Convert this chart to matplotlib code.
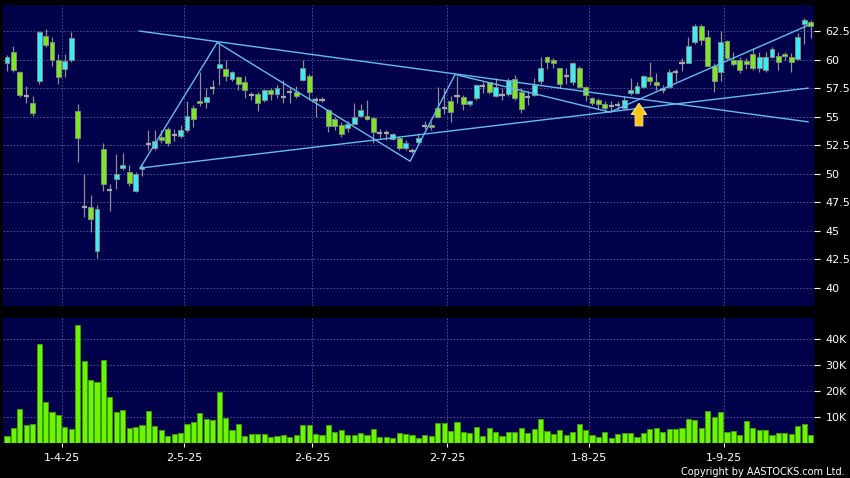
import matplotlib.pyplot as plt

# daily candles, oldest first
opens = [59.7, 60.7, 58.9, 56.8, 56.2, 58.1, 62.1, 61.5, 60.0, 59.2,
         60.0, 55.5, 47.1, 47.1, 43.2, 52.2, 48.6, 49.5, 50.5, 50.2,
         48.5, 50.4, 52.6, 52.3, 53.2, 53.9, 53.4, 53.3, 53.8, 55.8,
         56.4, 56.3, 57.5, 59.3, 59.2, 58.3, 58.5, 58.0, 56.9, 57.0,
         56.5, 57.3, 56.95, 56.7, 57.2, 57.2, 58.2, 58.6, 56.5, 56.5,
         55.6, 54.8, 54.3, 54.0, 54.4, 55.1, 55.05, 54.85, 53.6, 53.55,
         53.05, 53.15, 52.3, 52.0, 52.75, 54.2, 54.25, 55.8, 55.8, 56.4,
         56.8, 56.75, 56.1, 56.6, 57.7, 58.0, 56.8, 56.9, 57.0, 58.3,
         57.2, 56.7, 56.9, 58.15, 60.25, 60.0, 59.25, 58.55, 58.0, 59.3,
         57.6, 56.6, 56.5, 56.1, 55.9, 56.0, 55.8, 57.05, 57.1, 57.6,
         58.5, 58.0, 57.3, 57.6, 58.9, 59.7, 59.7, 61.5, 62.9, 62.0,
         59.4, 58.9, 61.65, 60.0, 60.0, 59.9, 60.5, 59.25, 59.1, 60.25,
         60.35, 60.5, 60.25, 60.05, 63.1, 63.25]
highs = [60.4, 61.2, 59.0, 57.7, 56.8, 62.5, 62.7, 62.0, 60.5, 60.5,
         62.4, 56.1, 50.0, 48.1, 47.3, 52.7, 49.1, 51.7, 51.8, 50.8,
         50.2, 50.9, 53.8, 53.8, 53.8, 54.1, 53.9, 54.3, 56.4, 56.0,
         58.9, 57.5, 58.2, 61.5, 60.0, 59.0, 58.6, 58.6, 57.2, 57.2,
         57.4, 57.5, 57.8, 58.2, 57.6, 57.7, 60.0, 58.7, 56.7, 56.7,
         55.7, 55.0, 54.5, 54.6, 56.2, 56.1, 56.5, 55.0, 53.9, 53.8,
         53.6, 53.3, 53.0, 52.3, 53.6, 54.65, 54.55, 57.6, 57.5, 56.8,
         58.6, 56.9, 56.5, 57.9, 58.0, 58.06, 58.4, 57.5, 58.4, 58.65,
         57.5, 57.25, 58.4, 60.25, 60.3, 60.1, 59.25, 59.3, 59.8, 59.4,
         57.7, 56.7, 56.6, 56.35, 56.4, 56.35, 56.8, 58.4, 58.0, 58.65,
         59.8, 58.8, 57.8, 59.15, 59.2, 60.15, 61.95, 63.1, 63.1, 62.6,
         59.7, 62.5, 61.7, 60.7, 60.25, 60.1, 61.0, 60.7, 60.7, 61.1,
         60.7, 60.7, 60.55, 62.3, 63.6, 63.5]
lows = [59.0, 58.9, 56.7, 56.2, 55.1, 57.9, 61.1, 59.4, 57.9, 58.5,
        59.8, 51.0, 46.2, 44.9, 42.6, 48.5, 46.7, 48.7, 50.3, 48.9,
        48.4, 49.8, 52.1, 52.1, 52.7, 52.4, 52.9, 53.1, 53.7, 54.1,
        55.9, 55.8, 57.0, 57.8, 58.1, 58.1, 57.3, 56.6, 56.5, 55.5,
        56.3, 56.5, 56.6, 56.2, 56.2, 56.6, 58.1, 56.5, 54.95, 56.3,
        53.7, 53.8, 53.2, 53.7, 54.35, 54.95, 54.7, 52.7, 53.1, 53.0,
        52.95, 52.1, 52.1, 51.8, 52.6, 53.9, 53.8, 54.85, 55.2, 54.5,
        56.2, 55.6, 55.9, 56.5, 57.1, 56.95, 56.7, 56.5, 56.8, 56.5,
        55.3, 56.0, 56.8, 57.9, 59.2, 59.25, 57.5, 57.9, 57.8, 57.5,
        56.4, 56.0, 55.7, 55.5, 55.5, 55.6, 55.7, 56.9, 57.0, 57.5,
        57.8, 57.3, 57.05, 57.5, 58.1, 59.0, 59.7, 61.4, 61.3, 59.4,
        57.2, 58.15, 60.0, 59.4, 58.8, 59.2, 59.1, 58.9, 58.9, 60.1,
        59.1, 60.0, 58.9, 59.96, 61.4, 61.9]
closes = [60.2, 59.1, 56.9, 56.8, 55.3, 62.4, 61.3, 60.0, 58.5, 59.9,
          61.9, 53.1, 47.1, 46.0, 46.9, 49.1, 48.6, 50.0, 50.8, 49.2,
          50.0, 50.6, 52.6, 52.9, 53.0, 52.7, 53.4, 53.8, 55.1, 54.8,
          56.2, 56.7, 57.5, 59.6, 58.6, 58.9, 57.9, 57.3, 56.9, 56.2,
          57.3, 57.0, 57.5, 56.7, 57.2, 56.85, 59.3, 57.2, 56.5, 56.5,
          54.2, 54.2, 53.5, 54.4, 54.95, 55.6, 54.8, 53.7, 53.6, 53.55,
          53.45, 52.3, 52.7, 52.0, 53.1, 54.2, 54.1, 55.0, 55.8, 55.4,
          56.8, 56.1, 56.4, 57.8, 57.7, 57.2, 57.6, 56.9, 58.2, 56.6,
          55.7, 56.7, 57.8, 59.3, 59.76, 59.7, 57.9, 58.55, 59.7, 57.6,
          56.9, 56.2, 56.1, 55.8, 55.9, 56.0, 56.5, 57.3, 57.7, 58.55,
          58.15, 57.8, 57.5, 58.9, 58.9, 59.7, 61.2, 62.9, 61.7, 59.4,
          58.1, 61.5, 60.1, 59.6, 59.1, 59.6, 59.25, 60.25, 60.25, 60.9,
          59.75, 60.3, 59.8, 61.95, 63.5, 62.95]
# volume in thousands of shares
volumes = [2.8, 5.9, 13.1, 7.1, 7.4, 38.1, 16.0, 12.1, 10.9, 6.3,
           5.4, 45.5, 31.8, 24.4, 23.5, 32.1, 17.9, 12.2, 12.9, 5.8,
           6.3, 6.9, 12.3, 6.7, 5.1, 2.8, 3.5, 3.8, 7.3, 8.3,
           11.8, 9.5, 9.1, 19.9, 9.9, 5.1, 7.6, 2.9, 3.6, 3.7,
           3.5, 2.6, 2.7, 3.2, 2.4, 3.3, 6.9, 6.9, 3.5, 3.1,
           7.1, 4.4, 5.0, 3.3, 3.3, 3.8, 3.3, 5.4, 2.6, 2.4,
           2.1, 4.0, 3.6, 3.3, 2.1, 3.1, 2.8, 7.7, 7.7, 4.9,
           8.2, 4.5, 4.0, 6.3, 2.9, 5.8, 4.5, 2.8, 4.2, 4.2,
           5.8, 3.8, 5.4, 9.5, 4.7, 3.7, 5.0, 3.3, 4.4, 7.6,
           5.1, 3.1, 2.4, 4.4, 2.2, 3.6, 4.0, 4.1, 2.4, 3.8,
           5.4, 5.8, 4.4, 5.5, 5.6, 5.9, 9.5, 8.8, 5.8, 12.4,
           10.1, 11.9, 4.2, 4.9, 3.1, 8.5, 5.8, 5.1, 5.1, 3.1,
           3.8, 3.8, 3.7, 6.8, 7.6, 3.2]

month_labels = ['1-4-25', '2-5-25', '2-6-25', '2-7-25', '1-8-25', '1-9-25']
month_first = [9, 28, 48, 69, 91, 112]

# drawn trend lines (bar index, price)
zigzag_x = [20.7, 32.7, 62.7, 69.7, 93.8, 124.6]
zigzag_y = [50.5, 61.5, 51.1, 58.7, 55.4, 63.0]
upper_x = [20.6, 124.6]
upper_y = [62.5, 54.55]
lower_x = [20.7, 124.6]
lower_y = [50.5, 57.5]
signal_x = 98.3
signal_lo, signal_hi = 54.2, 56.17

price_ticks = [40, 42.5, 45, 47.5, 50, 52.5, 55, 57.5, 60, 62.5]
vol_ticks = [10, 20, 30, 40]

navy = '#00004a'
grid_col = '#5a5a98'
cyan = '#38ecfa'
green = '#7ee622'
doji_col = '#a8a8a8'

fig = plt.figure(figsize=(8.5, 4.78), dpi=100, facecolor='black')
ax = fig.add_axes([0.0041, 0.3598, 0.9541, 0.6297], facecolor=navy)
axv = fig.add_axes([0.0041, 0.0726, 0.9541, 0.2615], facecolor=navy, sharex=ax)

n = len(opens)
xs = list(range(n))

# candles
ax.vlines(xs, lows, highs, color='#8e8e8e', lw=0.9, zorder=2)
body_x, body_bot, body_h, body_c = [], [], [], []
doji_x, doji_y = [], []
for i in xs:
    o, c = opens[i], closes[i]
    if abs(c - o) < 0.01:
        doji_x.append(i)
        doji_y.append(o)
    else:
        body_x.append(i)
        body_bot.append(min(o, c))
        body_h.append(abs(c - o))
        body_c.append(cyan if c > o else green)
ax.bar(body_x, body_h, bottom=body_bot, width=0.76, color=body_c,
       edgecolor='#7c8a80', linewidth=0.7, zorder=3)
ax.hlines(doji_y, [d - 0.4 for d in doji_x], [d + 0.4 for d in doji_x],
          color=doji_col, lw=1.6, zorder=3)

# trend lines
line_col = '#66bbee'
ax.plot(zigzag_x, zigzag_y, color=line_col, lw=1, zorder=4)
ax.plot(upper_x, upper_y, color=line_col, lw=1, zorder=4)
ax.plot(lower_x, lower_y, color=line_col, lw=1, zorder=4)

# buy signal arrow
ax.annotate('', xy=(signal_x, signal_hi), xytext=(signal_x, signal_lo),
            arrowprops=dict(arrowstyle='simple,head_width=1.1,head_length=0.8,tail_width=0.55',
                            fc='#ffc414', ec='#f5e08a', lw=0.8,
                            shrinkA=0, shrinkB=0, mutation_scale=10),
            zorder=5)

# volume
axv.bar(xs, volumes, width=0.8, color='#6cf500', edgecolor='#3f9a10',
        linewidth=0.7, zorder=3)

grid_pos = [m - 0.5 for m in month_first]
for a in (ax, axv):
    for s in a.spines.values():
        s.set_visible(False)
    a.set_xlim(-0.55, 125.6)
    a.set_xticks(grid_pos)
    a.yaxis.tick_right()
    a.grid(True, color=grid_col, ls=(0, (2, 2)), lw=0.6, zorder=0)
    a.tick_params(axis='y', colors='white', labelsize=8, length=4, width=0.8,
                  pad=4, direction='out')

ax.set_ylim(38.42, 64.78)
ax.set_yticks(price_ticks)
ax.set_yticklabels(['{:g}'.format(t) for t in price_ticks])
ax.tick_params(axis='x', length=0, labelbottom=False)

axv.set_ylim(0, 48.1)
axv.set_yticks(vol_ticks)
axv.set_yticklabels(['{}K'.format(t) for t in vol_ticks])
axv.set_xticklabels(month_labels)
axv.tick_params(axis='x', colors='white', labelsize=8, length=3, width=0.8, pad=4)

fig.text(0.994, 0.0132, 'Copyright by AASTOCKS.com Ltd.', ha='right', va='center',
         color='white', fontsize=7)

fig.savefig('out.png', dpi=100, facecolor='black')
